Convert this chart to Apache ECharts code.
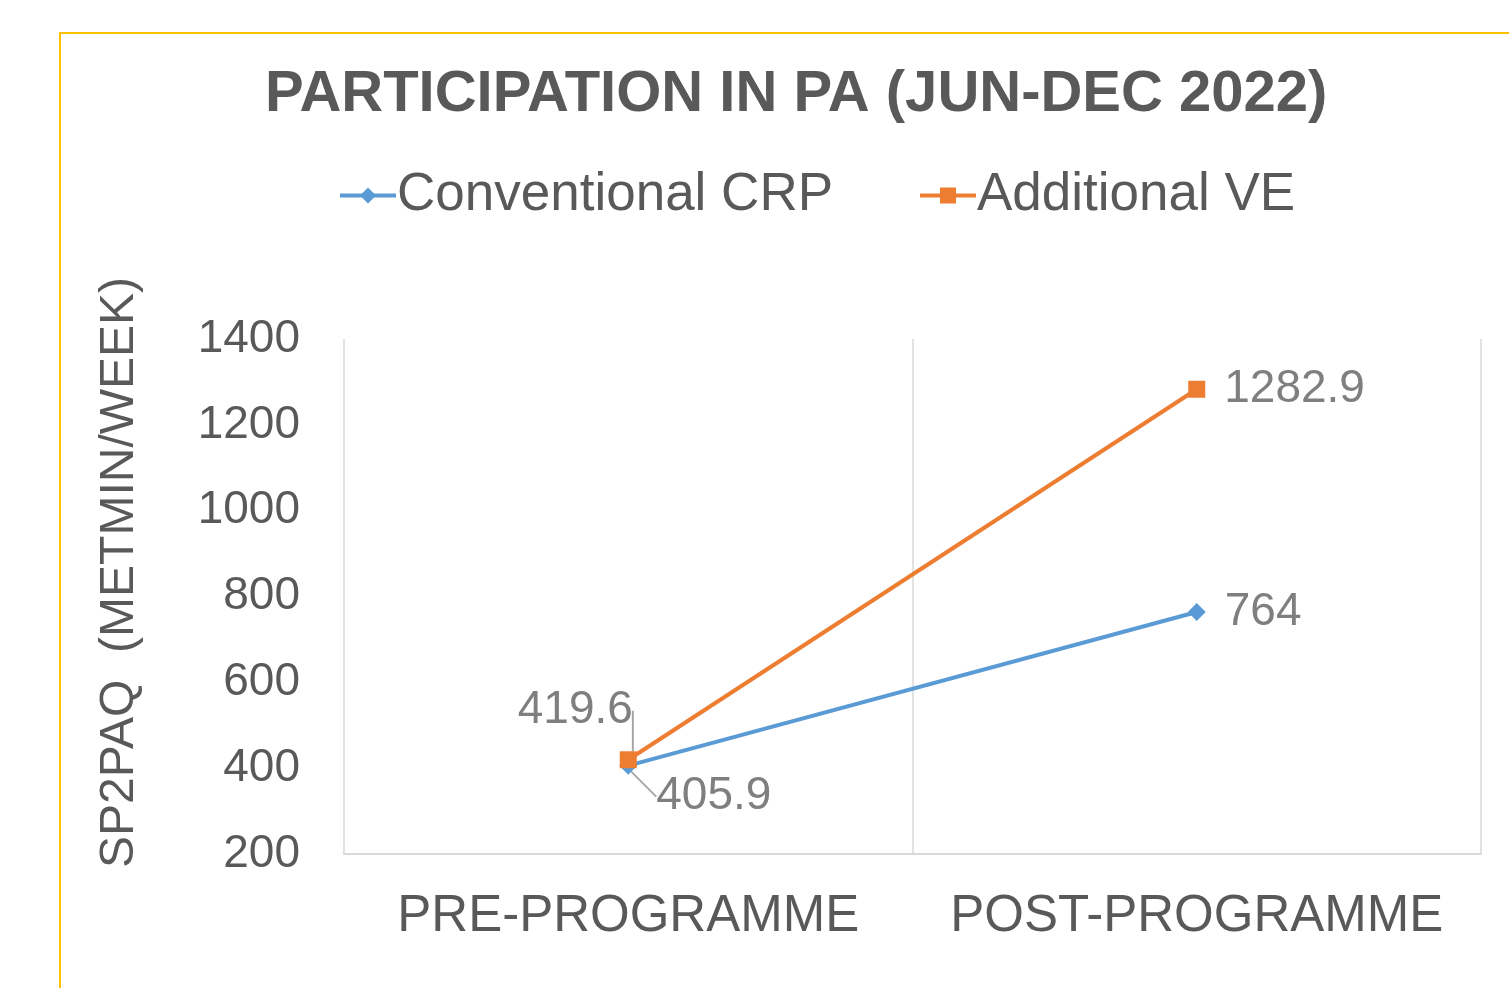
<!DOCTYPE html>
<html>
<head>
<meta charset="utf-8">
<script src="https://cdn.jsdelivr.net/npm/echarts@6/dist/echarts.min.js"></script>
<style>
html,body{margin:0;padding:0;background:#fff;}
#chart{width:1509px;height:988px;}
</style>
</head>
<body>
<div id="chart"></div>
<script>
var categories = ['PRE-PROGRAMME', 'POST-PROGRAMME'];
var conventionalCRP = [405.9, 764];
var additionalVE = [419.6, 1282.9];
var yTicks = { min: 200, max: 1400, interval: 200 };

var chart = echarts.init(document.getElementById('chart'));
var FONT = '"Liberation Sans", Arial, sans-serif';

// label displacement for the crowded pre-programme point
function layout(params) {
  if (params.dataIndex !== 0) return {};
  if (params.seriesIndex === 1) return { dx: -138, dy: -49 };
  return { dx: 0, dy: 31 };
}
function withGuide(arr) {
  return arr.map(function (v, i) {
    return i === 0 ? { value: v, labelLine: { show: true } } : { value: v };
  });
}

var option = {
  backgroundColor: '#fff',
  animation: false,
  graphic: [{
    type: 'rect', silent: true,
    shape: { x: 60, y: 33, width: 1520, height: 1000 },
    style: { fill: 'none', stroke: '#FFC000', lineWidth: 2 }
  }],
  title: {
    text: 'PARTICIPATION IN PA (JUN-DEC 2022)',
    left: 260, top: 61,
    textStyle: { fontFamily: FONT, fontSize: 58, fontWeight: 'bold', color: '#595959' }
  },
  legend: {
    top: 164, left: 333,
    itemWidth: 56, itemHeight: 20, itemGap: 85,
    lineStyle: { width: 4 },
    textStyle: { fontFamily: FONT, fontSize: 53, color: '#595959', padding: [0, 0, 0, -4] },
    data: ['Conventional CRP', 'Additional VE']
  },
  grid: { left: 344, right: 28, top: 339, bottom: 134 },
  xAxis: {
    type: 'category',
    data: categories,
    boundaryGap: true,
    axisLine: { show: true, lineStyle: { color: '#d9d9d9', width: 2 } },
    axisTick: { show: false },
    splitLine: { show: true, interval: 0, lineStyle: { color: '#d9d9d9', width: 1.5 } },
    axisLabel: { fontFamily: FONT, fontSize: 51, color: '#595959', margin: 37, interval: 0 }
  },
  yAxis: {
    type: 'value',
    min: yTicks.min, max: yTicks.max, interval: yTicks.interval,
    name: 'SP2PAQ  (METMIN/WEEK)',
    nameLocation: 'middle',
    nameGap: 200,
    nameTextStyle: { fontFamily: FONT, fontSize: 48, color: '#595959', padding: [0, 0, 0, 48] },
    axisLine: { show: false },
    axisTick: { show: false },
    splitLine: { show: false },
    axisLabel: {
      fontFamily: FONT, fontSize: 46, color: '#595959', margin: 44,
      formatter: function (v) { return String(v); }
    }
  },
  series: [{
    name: 'Conventional CRP',
    type: 'line',
    data: withGuide(conventionalCRP),
    symbol: 'diamond', symbolSize: 18,
    lineStyle: { color: '#5B9BD5', width: 4 },
    itemStyle: { color: '#5B9BD5' },
    label: {
      show: true, position: 'right', distance: 19,
      fontFamily: FONT, fontSize: 46, color: '#7F7F7F'
    },
    labelLine: { show: false, lineStyle: { color: '#A6A6A6', width: 2 } },
    labelLayout: layout,
    z: 2
  }, {
    name: 'Additional VE',
    type: 'line',
    data: withGuide(additionalVE),
    symbol: 'rect', symbolSize: 17,
    lineStyle: { color: '#ED7D31', width: 4 },
    itemStyle: { color: '#ED7D31' },
    label: {
      show: true, position: 'right', distance: 19,
      fontFamily: FONT, fontSize: 46, color: '#7F7F7F'
    },
    labelLine: { show: false, lineStyle: { color: '#A6A6A6', width: 2 } },
    labelLayout: layout,
    z: 3
  }]
};
chart.setOption(option);
</script>
</body>
</html>
